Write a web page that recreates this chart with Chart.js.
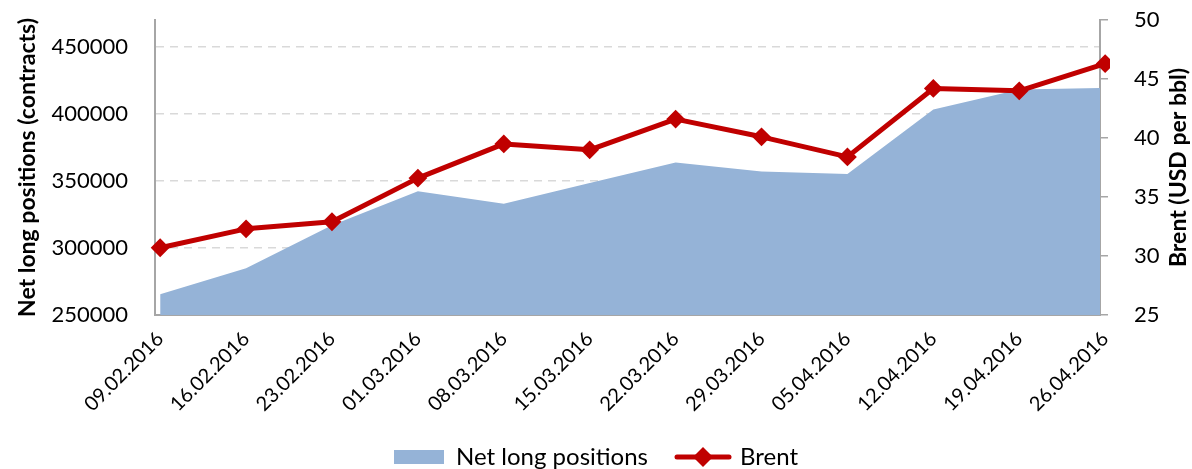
<!DOCTYPE html>
<html>
<head>
<meta charset="utf-8">
<script src="https://cdn.jsdelivr.net/npm/chart.js@4.4.0/dist/chart.umd.min.js"></script>
<style>
    html, body { margin: 0; padding: 0; background: #fff; }
    .chart-box { width: 1192px; height: 469px; position: relative; }
</style>
</head>
<body>
<div class="chart-box"><canvas id="cotChart"></canvas></div>
<script>
const dates = ['09.02.2016', '16.02.2016', '23.02.2016', '01.03.2016', '08.03.2016', '15.03.2016',
    '22.03.2016', '29.03.2016', '05.04.2016', '12.04.2016', '19.04.2016', '26.04.2016'];
const netLong = [265500, 284900, 317000, 342200, 333000, 348400, 363800, 357100, 355200, 403200, 418200, 419400];
const brent = [30.7, 32.3, 32.9, 36.6, 39.5, 39.0, 41.6, 40.1, 38.4, 44.2, 44.0, 46.3];
const leftTicks = [250000, 300000, 350000, 400000, 450000];
const rightTicks = [25, 30, 35, 40, 45, 50];

const blue = '#95B3D7';
const red = '#C00000';
const axisGrey = '#A6A6A6';
const fontName = 'Lato';

// legend symbols
const swatch = document.createElement('canvas');
swatch.width = 50; swatch.height = 14;
let sctx = swatch.getContext('2d');
sctx.fillStyle = blue;
sctx.fillRect(0, 0, 50, 14);

const brentSym = document.createElement('canvas');
brentSym.width = 58; brentSym.height = 22;
sctx = brentSym.getContext('2d');
sctx.strokeStyle = red; sctx.lineWidth = 5; sctx.lineCap = 'round';
sctx.beginPath(); sctx.moveTo(3, 11); sctx.lineTo(55, 11); sctx.stroke();
sctx.fillStyle = red;
sctx.beginPath(); sctx.moveTo(29, 1); sctx.lineTo(39, 11); sctx.lineTo(29, 21); sctx.lineTo(19, 11); sctx.closePath(); sctx.fill();

const rightTitle = {
    id: 'rightTitle',
    afterDraw(chart) {
        const ctx = chart.ctx;
        const area = chart.chartArea;
        ctx.save();
        ctx.translate(chart.scales.y1.right - 13, (area.top + area.bottom) / 2);
        ctx.rotate(-Math.PI / 2);
        ctx.font = 'bold 23px ' + fontName;
        ctx.fillStyle = '#000';
        ctx.textAlign = 'center';
        ctx.textBaseline = 'middle';
        ctx.fillText('Brent (USD per bbl)', 0, 0);
        ctx.restore();
    }
};

// no extra room for tick labels above / below the plot
function noPad(s) { s.paddingTop = 0; s.paddingBottom = 0; }

const ctx = document.getElementById('cotChart').getContext('2d');
const cotChart = new Chart(ctx, {
    type: 'line',
    data: {
        labels: dates,
        datasets: [{
            label: 'Brent',
            data: brent,
            yAxisID: 'y1',
            borderColor: red,
            backgroundColor: red,
            borderWidth: 5,
            borderJoinStyle: 'round',
            pointStyle: 'rectRot',
            pointRadius: 8,
            pointBorderWidth: 2,
            pointBorderColor: red,
            pointBackgroundColor: red,
            tension: 0,
            order: 1
        }, {
            label: 'Net long positions',
            data: netLong,
            yAxisID: 'y',
            fill: 'start',
            backgroundColor: blue,
            borderColor: blue,
            borderWidth: 0,
            pointRadius: 0,
            tension: 0,
            order: 2
        }]
    },
    options: {
        responsive: true,
        maintainAspectRatio: false,
        animation: false,
        layout: { padding: { top: 20, bottom: -10, left: 0, right: 0 } },
        plugins: {
            tooltip: { enabled: false },
            legend: {
                position: 'bottom',
                reverse: true,
                labels: {
                    usePointStyle: true,
                    pointStyleWidth: 50,
                    padding: 30,
                    color: '#000',
                    font: { family: fontName, size: 24 },
                    generateLabels(chart) {
                        const items = Chart.defaults.plugins.legend.labels.generateLabels(chart);
                        items.forEach(it => {
                            it.pointStyle = it.datasetIndex === 0 ? brentSym : swatch;
                        });
                        return items;
                    }
                }
            }
        },
        scales: {
            x: {
                afterDataLimits(s) { s.min -= 0.06; s.max += 0.06; },
                afterBuildTicks(s) { s.ticks = dates.map((d, i) => ({ value: i })); },
                afterFit(s) { s.height = 100; },
                grid: { display: false },
                border: { display: true, color: axisGrey, width: 2 },
                ticks: {
                    autoSkip: false,
                    minRotation: 45,
                    maxRotation: 45,
                    padding: 4,
                    color: '#000',
                    font: { family: fontName, size: 20 }
                }
            },
            y: {
                position: 'left',
                min: 250000,
                max: 470000,
                afterBuildTicks(s) { s.ticks = leftTicks.map(v => ({ value: v })); },
                afterFit(s) { s.width = 155; noPad(s); },
                title: {
                    display: true,
                    text: 'Net long positions (contracts)',
                    color: '#000',
                    padding: { top: 14, bottom: 0 },
                    font: { family: fontName, size: 23, weight: 'bold' }
                },
                grid: {
                    drawTicks: false,
                    lineWidth: 1.5,
                    color: c => c.tick && c.tick.value === 250000 ? 'rgba(0,0,0,0)' : '#D9D9D9'
                },
                border: { display: true, color: axisGrey, width: 2, dash: [8, 6] },
                ticks: {
                    padding: 27,
                    color: '#000',
                    font: { family: fontName, size: 22 },
                    callback: v => String(v)
                }
            },
            y1: {
                position: 'right',
                min: 25,
                max: 50,
                afterBuildTicks(s) { s.ticks = rightTicks.map(v => ({ value: v })); },
                afterFit(s) { s.width = 92; noPad(s); },
                grid: {
                    drawOnChartArea: false,
                    drawTicks: true,
                    tickLength: 8,
                    lineWidth: 1.5,
                    color: axisGrey
                },
                border: { display: true, color: axisGrey, width: 2 },
                ticks: {
                    padding: 26,
                    color: '#000',
                    font: { family: fontName, size: 22 },
                    callback: v => String(v)
                }
            }
        }
    },
    plugins: [rightTitle]
});
</script>
</body>
</html>
